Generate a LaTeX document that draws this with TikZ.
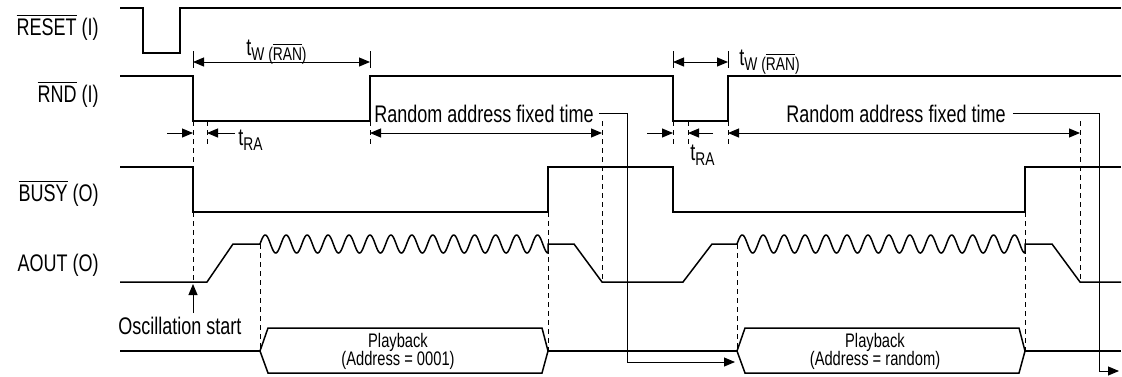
\documentclass[tikz,border=0pt]{standalone}
\usepackage{fontspec}
\setmainfont{Liberation Sans}[FakeStretch=0.75]
\usetikzlibrary{arrows.meta}

\newcommand{\ovl}[1]{$\overline{\mbox{#1}}$}
\newcommand{\subtxt}[1]{\raisebox{-0.4ex}{\fontsize{9.2}{10}\selectfont #1}}

\tikzset{
  signal/.style={line width=0.75pt, line join=miter},
  guide/.style={line width=0.5pt, dash pattern=on 2.5pt off 2pt},
  tickline/.style={line width=0.5pt},
  dimen/.style={line width=0.5pt, {Triangle[length=5.5pt,width=4.5pt]}-{Triangle[length=5.5pt,width=4.5pt]}},
  halfdim/.style={line width=0.5pt, -{Triangle[length=5.5pt,width=4.5pt]}},
  leader/.style={line width=0.45pt},
  sigtext/.style={font=\fontsize{12}{14}\selectfont, inner sep=0pt},
  boxtext/.style={font=\fontsize{9.8}{11}\selectfont, inner sep=0pt, anchor=base}
}

\begin{document}
\begin{tikzpicture}[x=0.5pt, y=-0.5pt]
  \useasboundingbox (0,0) rectangle (1122,376);

  % Signal names
  \node[sigtext, anchor=base east] (reset) at (99,35)  {\ovl{RESET} (I)};
  \node[sigtext, anchor=base east] (rnd)   at (99,102) {\ovl{RND} (I)};
  \node[sigtext, anchor=base east] (busy)  at (99,201) {\ovl{BUSY} (O)};
  \node[sigtext, anchor=base east] (aout)  at (99,271) {AOUT (O)};

  % RESET
  \draw[signal] (120,8) -- (143,8) -- (143,53) -- (180,53) -- (180,8) -- (1121,8);

  % RND
  \draw[signal] (120,76) -- (193,76) -- (193,121) -- (370,121) -- (370,76)
        -- (673,76) -- (673,121) -- (728,121) -- (728,76) -- (1121,76);

  % BUSY
  \draw[signal] (120,167) -- (193,167) -- (193,212) -- (548,212) -- (548,167)
        -- (673,167) -- (673,212) -- (1025,212) -- (1025,167) -- (1121,167);

  % AOUT
  \draw[signal] (120,282) -- (207,282) -- (233,244) -- (260,244)
        -- plot[domain=260:548, samples=400, smooth] (\x, {244-9*sin((\x-260)*17.188)})
        -- (548,244) -- (574,244) -- (602,282) -- (683,282) -- (712,244) -- (737,244)
        -- plot[domain=737:1025, samples=400, smooth] (\x, {244-9*sin((\x-737)*17.188)})
        -- (1025,244) -- (1052,244) -- (1080,282) -- (1121,282);

  % Playback bus
  \draw[signal] (120,351) -- (260,351);
  \draw[signal] (260,351) -- (268,328) -- (542,328) -- (548,351) -- (542,373) -- (268,373) -- cycle;
  \draw[signal] (548,351) -- (737,351);
  \draw[signal] (737,351) -- (745,328) -- (1019,328) -- (1025,351) -- (1019,373) -- (745,373) -- cycle;
  \draw[signal] (1025,351) -- (1121,351);
  \node[boxtext] (pbtop1) at (398,347) {Playback};
  \node[boxtext] (pbbot1) at (398,365) {(Address = 0001)};
  \node[boxtext] (pbtop2) at (875,347) {Playback};
  \node[boxtext] (pbbot2) at (875,365) {(Address = random)};

  % Extension ticks
  \draw[tickline] (193,51) -- (193,68);
  \draw[tickline] (370,51) -- (370,68);
  \draw[tickline] (673,51) -- (673,68);
  \draw[tickline] (728,51) -- (728,68);

  % Dashed guide lines
  \draw[guide] (193,121) -- (193,167);
  \draw[guide] (193,212) -- (193,282);
  \draw[guide] (207,121) -- (207,147);
  \draw[guide] (370,121) -- (370,147);
  \draw[guide] (260,244) -- (260,351);
  \draw[guide] (548,212) -- (548,351);
  \draw[guide] (602,121) -- (602,282);
  \draw[guide] (673,121) -- (673,147);
  \draw[guide] (688,121) -- (688,147);
  \draw[guide] (728,121) -- (728,147);
  \draw[guide] (737,244) -- (737,351);
  \draw[guide] (1025,212) -- (1025,351);
  \draw[guide] (1080,121) -- (1080,282);

  % tW (RAN)
  \draw[dimen] (193,62) -- (370,62);
  \node[sigtext, anchor=base west] (tw1) at (246,55) {t\subtxt{W (\ovl{RAN})}};
  \draw[dimen] (673,62) -- (728,62);
  \node[sigtext, anchor=base west] (tw2) at (739,65) {t\subtxt{W (\ovl{RAN})}};

  % tRA
  \draw[halfdim] (167,133) -- (193,133);
  \draw[halfdim] (235,133) -- (207,133);
  \node[sigtext, anchor=base west] (tra1) at (238,145) {t\subtxt{RA}};
  \draw[halfdim] (647,133) -- (673,133);
  \draw[halfdim] (713,133) -- (688,133);
  \node[sigtext, anchor=base west] (tra2) at (690,160) {t\subtxt{RA}};

  % Random address fixed time
  \draw[dimen] (370,133) -- (602,133);
  \node[sigtext, anchor=base] (raft1) at (484,122) {Random address fixed time};
  \draw[dimen] (728,133) -- (1080,133);
  \node[sigtext, anchor=base] (raft2) at (896,122) {Random address fixed time};

  % Leaders to next playback
  \coordinate (next1) at (735,362);
  \coordinate (next2) at (1119,371);
  \draw[leader, -{Triangle[length=5.5pt,width=4.5pt]}] ([xshift=2.5pt]raft1.east) -| (627,362) -- (next1);
  \draw[leader, -{Triangle[length=5.5pt,width=4.5pt]}] ([xshift=3.5pt]raft2.east) -| (1099,371) -- (next2);

  % Oscillation start
  \node[sigtext, anchor=base] (osc) at (180,334) {Oscillation start};
  \draw[halfdim] (193,313) -- (193,284);
\end{tikzpicture}
\end{document}
